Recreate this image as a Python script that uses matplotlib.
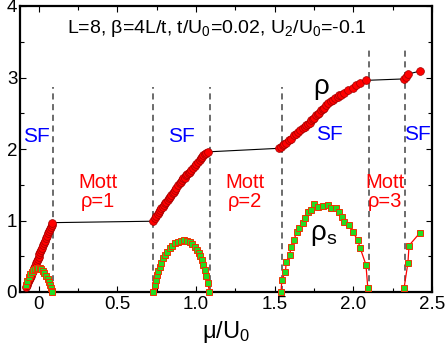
import matplotlib
matplotlib.use('Agg')
import matplotlib.pyplot as plt
from matplotlib.ticker import MultipleLocator, FuncFormatter

plt.rcParams['font.family'] = ['Liberation Sans', 'DejaVu Sans']
plt.rcParams['mathtext.fontset'] = 'custom'
plt.rcParams['mathtext.rm'] = 'Liberation Sans'
plt.rcParams['mathtext.it'] = 'Liberation Sans'
plt.rcParams['mathtext.default'] = 'regular'

# density rho vs mu/U0 (whole curve, plateaus joined by the line)
mu_rho = [-0.080, -0.074, -0.068, -0.062, -0.056, -0.050, -0.044, -0.038, -0.032, -0.026,
          -0.020, -0.014, -0.008, -0.002, 0.004, 0.010, 0.016, 0.022, 0.028, 0.034,
          0.040, 0.046, 0.052, 0.058, 0.064, 0.070, 0.076, 0.082, 0.085,
          0.726, 0.737, 0.747, 0.755, 0.762, 0.770, 0.779, 0.788, 0.796, 0.804, 0.811,
          0.818, 0.825, 0.834, 0.843, 0.851, 0.859, 0.866, 0.874, 0.885, 0.895, 0.903,
          0.910, 0.918, 0.927, 0.936, 0.944, 0.952, 0.959, 0.970, 0.980, 0.990, 1.001,
          1.012, 1.022, 1.030, 1.037, 1.046, 1.054, 1.065, 1.075,
          1.530, 1.541, 1.551, 1.562, 1.573, 1.588, 1.604, 1.621, 1.634, 1.647, 1.662,
          1.678, 1.690, 1.700, 1.710, 1.721, 1.732, 1.742, 1.752, 1.763, 1.774, 1.784,
          1.795, 1.805, 1.816, 1.827, 1.841, 1.855, 1.869, 1.885, 1.900, 1.911, 1.922,
          1.943, 1.968, 1.996, 2.017, 2.044, 2.081,
          2.320, 2.335, 2.350, 2.425]
rho = [0.07, 0.10, 0.14, 0.17, 0.20, 0.23, 0.27, 0.30, 0.33, 0.36,
       0.40, 0.43, 0.46, 0.49, 0.53, 0.56, 0.59, 0.62, 0.66, 0.69,
       0.72, 0.75, 0.79, 0.82, 0.85, 0.88, 0.91, 0.94, 0.97,
       0.99, 1.03, 1.06, 1.09, 1.12, 1.15, 1.17, 1.19, 1.22, 1.24, 1.26,
       1.29, 1.31, 1.33, 1.36, 1.38, 1.40, 1.43, 1.45, 1.49, 1.52, 1.54,
       1.57, 1.59, 1.60, 1.63, 1.65, 1.67, 1.68, 1.70, 1.73, 1.76, 1.79,
       1.82, 1.85, 1.87, 1.89, 1.91, 1.93, 1.95, 1.96,
       2.01, 2.03, 2.06, 2.07, 2.09, 2.12, 2.14, 2.20, 2.21, 2.24, 2.27,
       2.29, 2.31, 2.34, 2.35, 2.37, 2.40, 2.42, 2.44, 2.47, 2.49, 2.51,
       2.54, 2.56, 2.58, 2.61, 2.65, 2.67, 2.69, 2.71, 2.73, 2.75, 2.76,
       2.79, 2.83, 2.86, 2.89, 2.93, 2.96,
       2.98, 3.01, 3.05, 3.09]

# superfluid density rho_s, one arch per SF lobe
mu_s1 = [-0.083, -0.075, -0.065, -0.055, -0.045, -0.035, -0.025, -0.015, -0.005, 0.005,
         0.015, 0.025, 0.035, 0.045, 0.055, 0.063, 0.070, 0.076, 0.082, 0.086]
rhos_1 = [0.10, 0.15, 0.21, 0.25, 0.28, 0.31, 0.32, 0.33, 0.33, 0.33,
          0.32, 0.30, 0.27, 0.23, 0.18, 0.14, 0.10, 0.06, 0.02, 0.0]
mu_s2 = [0.726, 0.736, 0.745, 0.753, 0.760, 0.768, 0.778, 0.790, 0.803, 0.817, 0.832,
         0.847, 0.866, 0.885, 0.904, 0.923, 0.941, 0.959, 0.975, 0.990, 1.003,
         1.016, 1.027, 1.037, 1.046, 1.054, 1.065, 1.075, 1.085]
rhos_2 = [0.0, 0.10, 0.17, 0.24, 0.30, 0.35, 0.41, 0.47, 0.52, 0.56, 0.61,
          0.65, 0.68, 0.70, 0.72, 0.73, 0.72, 0.70, 0.67, 0.63, 0.59,
          0.54, 0.50, 0.45, 0.38, 0.31, 0.22, 0.12, 0.0]
mu_s3 = [1.540, 1.545, 1.568, 1.573, 1.594, 1.605, 1.620, 1.643, 1.657, 1.678, 1.695,
         1.710, 1.730, 1.752, 1.773, 1.805, 1.837, 1.858, 1.890, 1.910, 1.930,
         1.943, 1.975, 1.996, 2.027, 2.044, 2.080, 2.092]
rhos_3 = [0.0, 0.17, 0.28, 0.42, 0.52, 0.63, 0.73, 0.84, 0.89, 0.96, 1.04,
          1.12, 1.15, 1.23, 1.19, 1.20, 1.22, 1.18, 1.17, 1.12, 1.05,
          0.98, 0.94, 0.84, 0.73, 0.61, 0.38, 0.05]
mu_s4 = [2.322, 2.347, 2.354, 2.424]
rhos_4 = [0.05, 0.41, 0.65, 0.83]

# phase boundaries (dashed lines) and their heights
mu_bound = [0.088, 0.727, 1.088, 1.543, 2.100, 2.330]
bound_top = [2.87, 2.87, 2.87, 2.87, 3.38, 3.43]

fig = plt.figure(figsize=(4.46, 3.54), dpi=100)
ax = fig.add_axes([20 / 446, 62 / 354, 412 / 446, 286 / 354])

for m, t in zip(mu_bound, bound_top):
    ax.plot([m, m], [0, t], color='#444444', lw=1.1, ls=(0, (4, 3)), zorder=1)

ax.plot(mu_rho, rho, color='black', lw=0.8, marker='o', ms=5.6,
        mfc='#ff0000', mec='#a00000', mew=0.5, zorder=3)

for xs, ys in [(mu_s1, rhos_1), (mu_s2, rhos_2), (mu_s3, rhos_3), (mu_s4, rhos_4)]:
    ax.plot(xs, ys, color='#ff0000', lw=0.9, marker='s', ms=4.8,
            mfc='#22dd22', mec='#ee3300', mew=0.7, zorder=4, clip_on=False)

ax.set_xlim(-0.12, 2.5)
ax.set_ylim(0, 4)
ax.xaxis.set_major_locator(MultipleLocator(0.5))
ax.xaxis.set_minor_locator(MultipleLocator(0.25))
ax.yaxis.set_major_locator(MultipleLocator(1))
ax.yaxis.set_minor_locator(MultipleLocator(0.5))
ax.xaxis.set_major_formatter(FuncFormatter(lambda v, p: '0' if abs(v) < 1e-9 else '%.1f' % v))
ax.yaxis.set_major_formatter(FuncFormatter(lambda v, p: '%d' % round(v)))
ax.tick_params(which='both', direction='in', top=True, right=True, labelsize=13.5, width=0.8)
ax.tick_params(which='major', length=4, pad=3)
ax.tick_params(which='minor', length=3)
ax.tick_params(axis='y', pad=2)
for s in ax.spines.values():
    s.set_linewidth(1.6)

ax.set_xlabel('μ/U$_0$', fontsize=17, labelpad=4)

ax.text(1.13, 3.69, 'L=8, β=4L/t, t/U$_0$=0.02, U$_2$/U$_0$=-0.1',
        ha='center', va='center', fontsize=14)
for x, y in [(-0.013, 2.17), (0.908, 2.17), (1.848, 2.2), (2.406, 2.2)]:
    ax.text(x, y, 'SF', color='#0000ff', ha='center', va='center', fontsize=15)
for x, lab in [(0.375, 'Mott\nρ=1'), (1.308, 'Mott\nρ=2'), (2.203, 'Mott\nρ=3')]:
    ax.text(x, 1.40, lab, color='#ff0000', ha='center', va='center',
            fontsize=14.5, linespacing=0.95)
ax.text(1.795, 2.87, 'ρ', ha='center', va='center', fontsize=20)
ax.text(1.81, 0.80, 'ρ$_s$', ha='center', va='center', fontsize=20)

plt.savefig('out.png', dpi=100)
